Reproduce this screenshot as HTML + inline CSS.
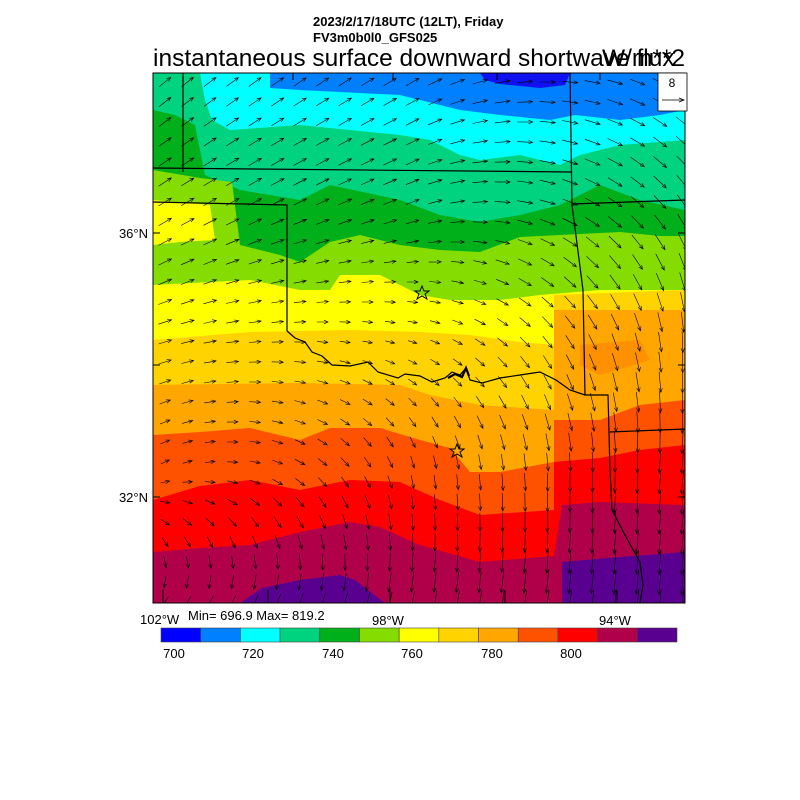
<!DOCTYPE html>
<html><head><meta charset="utf-8"><style>
html,body{margin:0;padding:0;background:#fff;width:800px;height:800px;overflow:hidden}
svg{display:block}
text{font-family:"Liberation Sans",Arial,sans-serif}
</style></head><body>
<svg id="s" width="800" height="800" viewBox="0 0 800 800" xmlns="http://www.w3.org/2000/svg">
<defs><clipPath id="c"><rect x="153" y="73" width="532" height="530"/></clipPath></defs>
<g clip-path="url(#c)" id="map">
<rect x="153" y="73" width="532" height="530" fill="#00ffff"/>
<polygon fill="#0080ff" points="270,73 685,73 685,110 660,115 620,120 575,115 550,120 500,115 460,110 400,95 300,90 270,88"/>
<polygon fill="#1010f0" points="480,73 570,73 565,85 540,88 500,84 485,80"/>
<polygon fill="#00d37f" points="153,73 200,73 205,100 212,120 230,130 300,125 400,135 430,140 460,155 480,160 520,155 560,165 580,155 620,145 685,140 685,603 153,603"/>
<polygon fill="#00b01a" points="153,110 175,115 195,125 205,175 240,190 300,200 330,185 400,200 440,215 480,222 520,215 560,205 600,185 640,200 685,210 685,603 153,603"/>
<polygon fill="#85dc00" points="153,170 200,178 232,182 240,245 280,255 300,262 330,242 360,235 400,245 440,250 480,252 520,237 560,235 620,232 660,236 685,236 685,603 153,603"/>
<polygon fill="#ffff00" points="153,200 210,205 215,240 180,242 153,245"/>
<polygon fill="#ffff00" points="153,285 250,280 300,290 330,290 340,275 380,275 420,295 450,300 500,300 540,295 600,290 685,290 685,603 153,603"/>
<polygon fill="#ffd300" points="153,340 250,332 350,330 420,332 470,335 520,342 554,345 554,603 153,603"/>
<polygon fill="#ffd300" points="554,295 685,290 685,310 554,310"/>
<polygon fill="#ffa600" points="153,385 300,383 400,385 430,395 480,405 554,410 554,310 685,310 685,603 153,603"/>
<polygon fill="#ff9000" points="580,345 640,340 650,360 600,375 580,365"/>
<polygon fill="#ff5200" points="153,435 200,432 250,428 300,440 330,428 380,428 420,440 450,448 470,472 500,472 554,462 554,420 600,420 640,405 685,400 685,603 153,603"/>
<polygon fill="#ff0000" points="153,500 200,486 250,480 300,490 350,480 400,482 440,500 480,515 554,510 554,462 600,458 640,450 685,445 685,603 153,603"/>
<polygon fill="#b0004a" points="153,552 200,548 250,545 300,532 350,522 380,527 420,545 480,562 554,556 562,505 600,502 685,505 685,603 153,603"/>
<polygon fill="#5a0090" points="240,603 262,588 300,580 340,575 355,580 385,603"/>
<polygon fill="#5a0090" points="562,603 562,562 620,557 685,552 685,603"/>
<g fill="none" stroke="#000" stroke-width="1.2">
<polyline points="183,73 183,172"/>
<polyline points="153,168 572,172"/>
<polyline points="153,202 287,205 287,331"/>
<polyline points="570,73 572,205 583,290 585,395"/>
<polyline points="572,204 685,200"/>
<polyline points="287,331 295,338 305,342 312,352 322,356 332,365 350,366 368,362 378,372 398,378 405,374 420,376 432,382 445,378 452,372 460,375 466,368 470,380 482,383 500,378 520,375 540,372 556,380 570,390 585,395 608,395 610,470 612,510 625,535 640,562 643,585 640,603"/>
<polyline points="610,432 685,429"/>
<polyline stroke-width="2.2" points="448,378 455,374 462,377 466,368 469,376"/>
</g>
<g stroke="#000" stroke-width="1">
<line x1="153" y1="233" x2="160" y2="233"/><line x1="153" y1="365" x2="160" y2="365"/><line x1="153" y1="497" x2="160" y2="497"/>
<line x1="685" y1="233" x2="678" y2="233"/><line x1="685" y1="365" x2="678" y2="365"/><line x1="685" y1="497" x2="678" y2="497"/>
<line x1="163" y1="603" x2="163" y2="590"/><line x1="268" y1="603" x2="268" y2="590"/><line x1="390" y1="603" x2="390" y2="590"/><line x1="505" y1="603" x2="505" y2="590"/><line x1="617" y1="603" x2="617" y2="590"/>
<line x1="293" y1="73" x2="293" y2="80"/><line x1="393" y1="73" x2="393" y2="80"/><line x1="497" y1="73" x2="497" y2="80"/><line x1="600" y1="73" x2="600" y2="80"/>
</g>
<g id="arr" stroke="#000" stroke-width="0.6" fill="none"></g>
<polygon fill="none" stroke="#000" stroke-width="1" points="422,286 424,291 429,291 425,294 427,299 422,296 417,299 419,294 415,291 420,291"/>
<polygon fill="none" stroke="#000" stroke-width="1" points="457,444 459,449 464,449 460,452 462,457 457,454 452,457 454,452 450,449 455,449"/>
</g>
<rect x="153" y="73" width="532" height="530" fill="none" stroke="#000" stroke-width="1"/>
<rect x="658" y="73" width="29" height="38" fill="#fff" stroke="#000" stroke-width="0.8"/>
<text x="672" y="87" font-size="12" text-anchor="middle">8</text>
<line x1="662" y1="100" x2="684" y2="100" stroke="#000" stroke-width="0.8"/><polyline points="679,98 684,100 679,102" fill="none" stroke="#000" stroke-width="0.8"/>
<text x="313" y="26" font-size="13" font-weight="bold">2023/2/17/18UTC (12LT), Friday</text>
<text x="313" y="42" font-size="13" font-weight="bold">FV3m0b0l0_GFS025</text>
<text x="153" y="66" font-size="24.5">instantaneous surface downward shortwave flux</text>
<text x="685" y="66" font-size="24.5" text-anchor="end">W/m**2</text>
<text x="148" y="238" font-size="13" text-anchor="end">36°N</text>
<text x="148" y="502" font-size="13" text-anchor="end">32°N</text>
<text x="140" y="624" font-size="13">102°W</text>
<text x="188" y="620" font-size="13">Min= 696.9 Max= 819.2</text>
<text x="372" y="625" font-size="13">98°W</text>
<text x="599" y="625" font-size="13">94°W</text>
<g id="cb" stroke="#444" stroke-width="0.6"></g>
<g font-size="13" text-anchor="middle">
<text x="174" y="658">700</text><text x="253" y="658">720</text><text x="333" y="658">740</text><text x="412" y="658">760</text><text x="492" y="658">780</text><text x="571" y="658">800</text>
</g>
</svg>
<script>
var NS="http://www.w3.org/2000/svg";
var cols=["#0000ff","#0080ff","#00ffff","#00d37f","#00b01a","#85dc00","#ffff00","#ffd300","#ffa600","#ff5200","#ff0000","#b0004a","#5a0090"];
var cb=document.getElementById("cb"),w=(677-161)/13;
cols.forEach(function(c,i){var r=document.createElementNS(NS,"rect");r.setAttribute("x",161+i*w);r.setAttribute("y",628);r.setAttribute("width",w);r.setAttribute("height",14);r.setAttribute("fill",c);cb.appendChild(r);});
// grids: rows fy=0,.25,.5,.75,1 ; cols fx=0,.5,1
var ANG=[[-40,-30,30],[-32,-20,55],[-18,15,88],[-30,80,95],[125,100,95]];
var MAG=[[15,15,16],[15,14,18],[14,9,21],[9,13,24],[12,22,26]];
function grid(G,fx,fy){
 var r=Math.min(3.999,fy*4),i=Math.floor(r),t=r-i;
 var c=Math.min(1.999,fx*2),j=Math.floor(c),u=c-j;
 var a=G[i][j]+(G[i][j+1]-G[i][j])*u, b=G[i+1][j]+(G[i+1][j+1]-G[i+1][j])*u;
 return a+(b-a)*t;}
var g=document.getElementById("arr"),d="";
for(var y=82;y<603;y+=20){for(var x=165;x<685;x+=22.5){
 var fx=(x-153)/532,fy=(y-73)/530;
 var a=grid(ANG,fx,fy),m=grid(MAG,fx,fy);
 a=a*Math.PI/180;var dx=Math.cos(a)*m,dy=Math.sin(a)*m;
 var x0=x-dx/2,y0=y-dy/2,x1=x+dx/2,y1=y+dy/2;
 var h=4.5,s=0.4;
 var hx1=x1-h*Math.cos(a-s),hy1=y1-h*Math.sin(a-s),hx2=x1-h*Math.cos(a+s),hy2=y1-h*Math.sin(a+s);
 d+="M"+x0.toFixed(1)+","+y0.toFixed(1)+"L"+x1.toFixed(1)+","+y1.toFixed(1)+"M"+hx1.toFixed(1)+","+hy1.toFixed(1)+"L"+x1.toFixed(1)+","+y1.toFixed(1)+"L"+hx2.toFixed(1)+","+hy2.toFixed(1);
}}
var p=document.createElementNS(NS,"path");p.setAttribute("d",d);g.appendChild(p);
</script>
</body></html>
